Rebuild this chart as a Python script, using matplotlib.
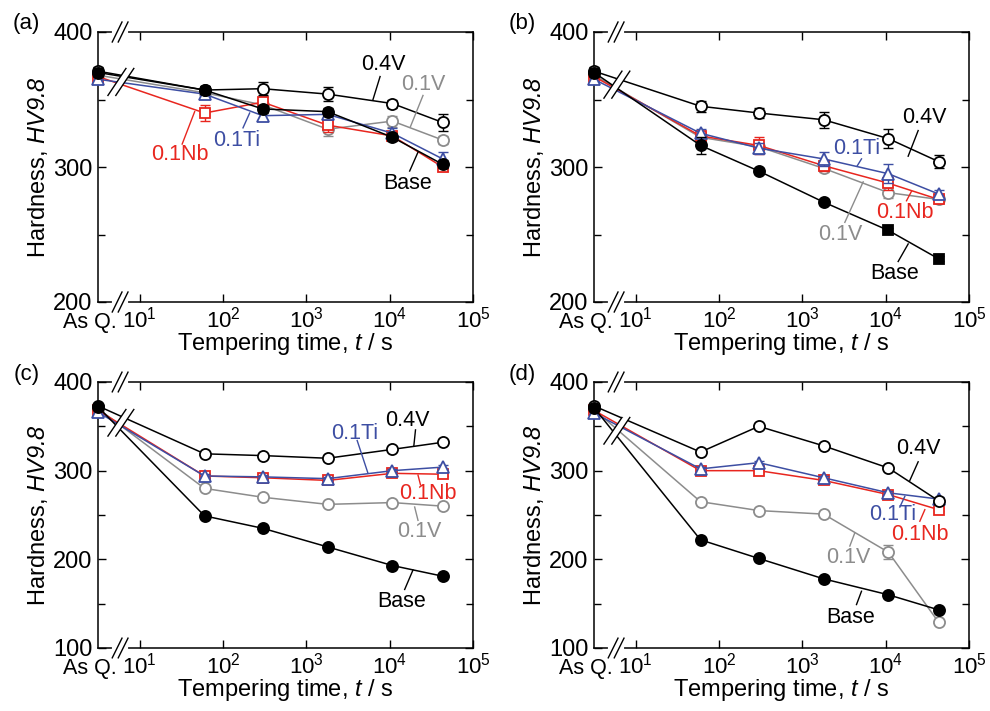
import numpy as np
import matplotlib
matplotlib.use('Agg')
import matplotlib.pyplot as plt
from matplotlib.patches import Polygon
from matplotlib.ticker import FixedLocator, MultipleLocator, NullLocator

plt.rcParams['font.family'] = ['Liberation Sans', 'DejaVu Sans']
plt.rcParams['mathtext.fontset'] = 'custom'
# digits inside \mathit fall back to the rm font, so make rm italic too
plt.rcParams['mathtext.rm'] = 'Liberation Sans:italic'
plt.rcParams['mathtext.it'] = 'Liberation Sans:italic'

# tempering times (s); the first point is the as-quenched state
AS_Q = 10 ** 0.5
times = [AS_Q, 60, 300, 1800, 10800, 43200]

# hardness values HV9.8
a_base = [370, 357, 343, 341, 322, 302]
a_v04 = [371, 357, 358, 354, 347, 333]
a_v01 = [368, 355, 346, 328, 334, 320]
a_ti = [365, 354, 338, 339, 325, 306]
a_nb = [367, 340, 348, 331, 323, 300]

b_base = [370, 316, 297, 274, 253, 232]
b_v04 = [371, 345, 340, 335, 321, 304]
b_v01 = [368, 322, 315, 299, 281, 276]
b_ti = [365, 325, 314, 306, 295, 280]
b_nb = [367, 323, 316, 301, 288, 276]

c_base = [372, 249, 235, 214, 193, 181]
c_v04 = [373, 319, 317, 314, 324, 332]
c_v01 = [370, 280, 270, 262, 264, 260]
c_ti = [366, 294, 293, 291, 300, 304]
c_nb = [368, 294, 292, 289, 297, 296]

d_base = [371, 222, 201, 178, 160, 143]
d_v04 = [373, 321, 350, 328, 303, 266]
d_v01 = [369, 265, 255, 251, 208, 129]
d_ti = [365, 302, 309, 292, 275, 268]
d_nb = [368, 300, 300, 289, 273, 256]

# error bars
a_err_base = [3, 3, 3, 3, 3, 3]
a_err_v04 = [3, 3, 5, 5, 3, 6]
a_err_v01 = [3, 3, 3, 5, 4, 3]
a_err_ti = [3, 3, 3, 3, 4, 5]
a_err_nb = [3, 6, 4, 5, 3, 3]

b_err_base = [3, 6, 2, 2, 2, 2]
b_err_v04 = [3, 4, 4, 6, 7, 5]
b_err_v01 = [3, 3, 3, 3, 4, 3]
b_err_ti = [3, 3, 4, 5, 7, 3]
b_err_nb = [3, 3, 6, 4, 5, 3]

c_err_base = [2, 2, 2, 2, 2, 2]
c_err_v04 = [2, 2, 2, 3, 2, 2]
c_err_v01 = [2, 2, 2, 2, 2, 2]
c_err_ti = [2, 2, 2, 2, 2, 2]
c_err_nb = [2, 2, 2, 2, 2, 2]

d_err_base = [2, 2, 2, 2, 2, 2]
d_err_v04 = [2, 2, 2, 3, 2, 2]
d_err_v01 = [2, 2, 2, 2, 8, 2]
d_err_ti = [2, 2, 2, 2, 2, 2]
d_err_nb = [2, 2, 2, 2, 2, 2]

b_base_markers = ['o', 'o', 'o', 'o', 's', 's']

series_names = ['0.1V', '0.1Nb', '0.1Ti', '0.4V', 'Base']
series_colors = ['#8c8c8c', '#e8261f', '#3d4ea3', 'black', 'black']
series_markers = ['o', 's', '^', 'o', 'o']
series_fill = ['white', 'white', 'white', 'white', 'black']

# label text position, leader start, leader end (t, HV)
labels_a = [((10 ** 4.40, 361), (10 ** 4.40, 353), (10 ** 4.25, 330)),
            ((10 ** 1.48, 309), (10 ** 1.51, 317), (10 ** 1.66, 341)),
            ((10 ** 2.17, 320), (10 ** 2.24, 329), (10 ** 2.32, 340)),
            ((10 ** 3.92, 376), (10 ** 3.885, 367), (10 ** 3.80, 350)),
            ((10 ** 4.22, 288), (10 ** 4.24, 297), (10 ** 4.34, 311))]
labels_b = [((10 ** 3.45, 250), (10 ** 3.51, 259), (10 ** 3.73, 289)),
            ((10 ** 4.23, 266), (10 ** 4.25, 275), (10 ** 4.31, 282)),
            ((10 ** 3.65, 314), (10 ** 3.71, 306), (10 ** 3.66, 301)),
            ((10 ** 4.47, 337), (10 ** 4.39, 327), (10 ** 4.27, 308)),
            ((10 ** 4.11, 221), (10 ** 4.15, 230), (10 ** 4.27, 243))]
labels_c = [((10 ** 4.36, 231), (10 ** 4.34, 244), (10 ** 4.30, 259)),
            ((10 ** 4.46, 274), (10 ** 4.37, 284), (10 ** 4.34, 295)),
            ((10 ** 3.58, 342), (10 ** 3.61, 334), (10 ** 3.74, 297)),
            ((10 ** 4.21, 357), (10 ** 4.31, 346), (10 ** 4.29, 328)),
            ((10 ** 4.14, 152), (10 ** 4.18, 166), (10 ** 4.28, 188))]
labels_d = [((10 ** 3.55, 202), (10 ** 3.57, 215), (10 ** 3.63, 230)),
            ((10 ** 4.41, 228), (10 ** 4.41, 243), (10 ** 4.47, 256)),
            ((10 ** 4.09, 250), (10 ** 4.17, 259), (10 ** 4.23, 271)),
            ((10 ** 4.39, 325), (10 ** 4.39, 310), (10 ** 4.29, 289)),
            ((10 ** 3.58, 134), (10 ** 3.65, 149), (10 ** 3.71, 164))]


def draw_breaks(ax, yc):
    # "//" on the top and bottom spines
    xb = 0.059
    for y0 in (0, 1):
        ax.plot([xb - 0.016, xb + 0.016], [y0, y0], color='white', lw=3,
                transform=ax.transAxes, clip_on=False, zorder=9)
        for dx in (-0.008, 0.008):
            ax.plot([xb + dx - 0.013, xb + dx + 0.013], [y0 - 0.037, y0 + 0.037],
                    color='black', lw=1, transform=ax.transAxes, clip_on=False, zorder=10)
    # "//" across the data lines
    xc, w, h, s = 0.061, 0.048, 0.1, 0.021
    pts = [(xc - w / 2 - s / 2, yc - h / 2), (xc + w / 2 - s / 2, yc + h / 2),
           (xc + w / 2 + s / 2, yc + h / 2), (xc - w / 2 + s / 2, yc - h / 2)]
    ax.add_patch(Polygon(pts, closed=True, facecolor='white', edgecolor='none',
                         transform=ax.transAxes, zorder=9))
    for dx in (-s / 2, s / 2):
        ax.plot([xc - w / 2 + dx, xc + w / 2 + dx], [yc - h / 2, yc + h / 2],
                color='black', lw=1, transform=ax.transAxes, zorder=10)


def plot_panel(ax, data, errs, labels, ylo, tag, ybreak, base_markers=None):
    for i in range(len(data)):
        col = series_colors[i]
        ax.plot(times, data[i], color=col, lw=1.1, zorder=3 + i, clip_on=False)
        ax.errorbar(times, data[i], yerr=errs[i], fmt='none', ecolor=col,
                    elinewidth=1, capsize=3.5, capthick=1, zorder=3 + i, clip_on=False)
        mk = [series_markers[i]] * len(times)
        if i == 4 and base_markers is not None:
            mk = base_markers
        for t, v, m in zip(times, data[i], mk):
            ax.plot(t, v, marker=m, ms=8 if m != 's' else 7.5, mfc=series_fill[i],
                    mec=col, mew=1.3, ls='none', zorder=3.5 + i, clip_on=False)
        (tx, ty), p0, p1 = labels[i]
        ax.text(tx, ty, series_names[i], color=col, fontsize=15.5, ha='center',
                va='center', zorder=12)
        ax.plot([p0[0], p1[0]], [p0[1], p1[1]], color=col, lw=1, zorder=12)

    ax.set_xscale('log')
    ax.set_xlim(AS_Q, 1e5)
    ax.set_ylim(ylo, 400)
    ax.xaxis.set_major_locator(FixedLocator([1e1, 1e2, 1e3, 1e4, 1e5]))
    ax.xaxis.set_minor_locator(NullLocator())
    ax.yaxis.set_major_locator(MultipleLocator(100))
    ax.yaxis.set_minor_locator(MultipleLocator(50))
    ax.tick_params(which='both', direction='in', top=True, right=True, width=1)
    ax.tick_params(axis='y', labelsize=17, pad=4)
    ax.tick_params(axis='x', labelsize=16, pad=3)
    ax.tick_params(which='major', length=6)
    ax.tick_params(which='minor', length=5)
    for sp in ax.spines.values():
        sp.set_linewidth(1.1)
    ax.annotate('As Q.', xy=(0.05, 0), xycoords='axes fraction', xytext=(0, -7),
                textcoords='offset points', ha='right', va='top', fontsize=15.5)
    ax.set_xlabel('Tempering time, $\\mathit{t}$ / s', fontsize=17, labelpad=-1)
    ax.set_ylabel('Hardness, $\\mathit{HV9.8}$', fontsize=17, labelpad=2)
    ax.text(-0.19, 1.03, tag, transform=ax.transAxes, fontsize=16, ha='center',
            va='center')
    draw_breaks(ax, (ybreak - ylo) / (400 - ylo))


fig = plt.figure(figsize=(9.9, 7.11), dpi=100)
W, H = 990, 711
ax_a = fig.add_axes([98 / W, (H - 302) / H, 375 / W, 270 / H])
ax_b = fig.add_axes([594 / W, (H - 302) / H, 375 / W, 270 / H])
ax_c = fig.add_axes([98 / W, (H - 648) / H, 375 / W, 266 / H])
ax_d = fig.add_axes([594 / W, (H - 648) / H, 375 / W, 266 / H])

plot_panel(ax_a, [a_v01, a_nb, a_ti, a_v04, a_base],
           [a_err_v01, a_err_nb, a_err_ti, a_err_v04, a_err_base],
           labels_a, 200, '(a)', 363)
plot_panel(ax_b, [b_v01, b_nb, b_ti, b_v04, b_base],
           [b_err_v01, b_err_nb, b_err_ti, b_err_v04, b_err_base],
           labels_b, 200, '(b)', 361, base_markers=b_base_markers)
plot_panel(ax_c, [c_v01, c_nb, c_ti, c_v04, c_base],
           [c_err_v01, c_err_nb, c_err_ti, c_err_v04, c_err_base],
           labels_c, 100, '(c)', 354)
plot_panel(ax_d, [d_v01, d_nb, d_ti, d_v04, d_base],
           [d_err_v01, d_err_nb, d_err_ti, d_err_v04, d_err_base],
           labels_d, 100, '(d)', 345)

fig.savefig('out.png', dpi=100)
